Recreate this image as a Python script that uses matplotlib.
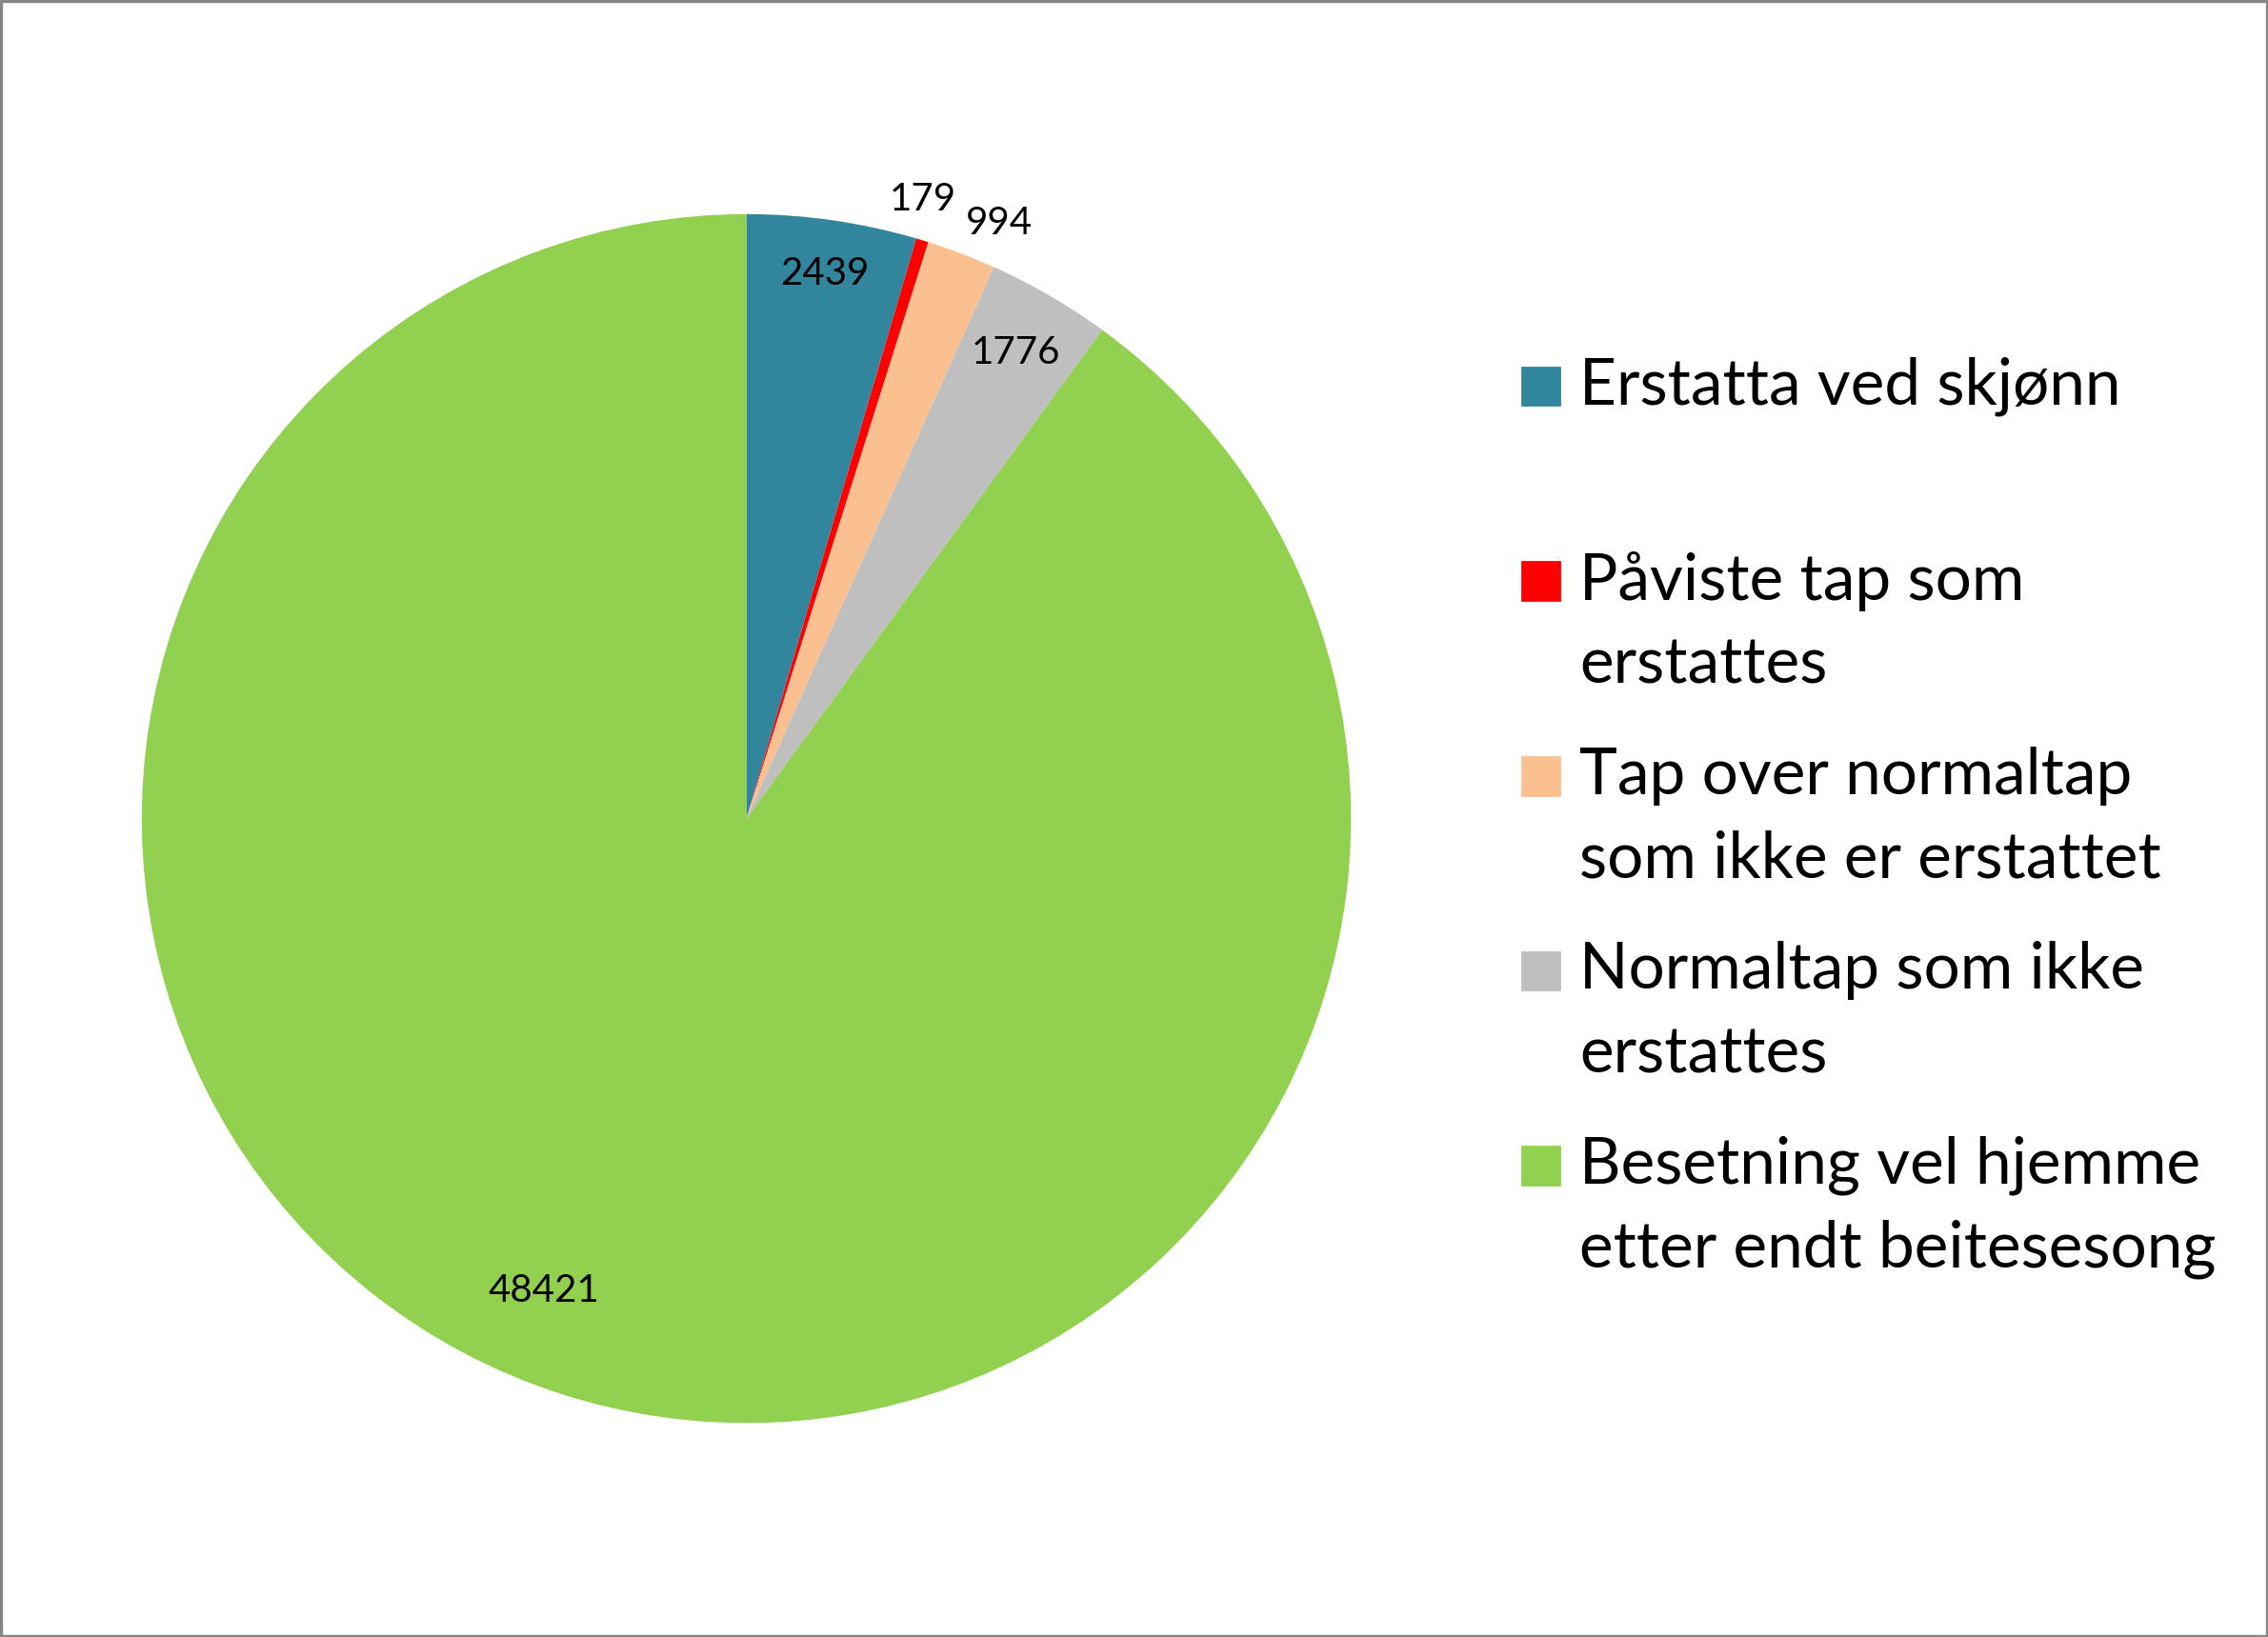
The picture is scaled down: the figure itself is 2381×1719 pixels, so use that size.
import matplotlib
matplotlib.use('Agg')
import matplotlib.pyplot as plt
from matplotlib.patches import Rectangle
import numpy as np

plt.rcParams['font.family'] = ['Lato', 'DejaVu Sans']

# data
categories = ['Erstatta ved skjønn',
              'Påviste tap som\nerstattes',
              'Tap over normaltap\nsom ikke er erstattet',
              'Normaltap som ikke\nerstattes',
              'Besetning vel hjemme\netter endt beitesesong']
values = [2439, 179, 994, 1776, 48421]
colors = ['#31859C', '#FF0000', '#FAC090', '#BFBFBF', '#92D050']

# label placement (radius factor, angle shift in degrees) to mimic excel
label_pos = [(0.91, 0.0), (1.065, 1.0), (1.07, -2.2), (0.89, 0.0), (0.85, -5.2)]

fig = plt.figure(figsize=(11.905, 8.595), dpi=200)
fig.patch.set_facecolor('white')

ax = fig.add_axes([0.0625, 0.1307, 0.5332, 0.7385])
wedges, _ = ax.pie(values, colors=colors, startangle=90, counterclock=False,
                   wedgeprops=dict(linewidth=0))
ax.set_xlim(-1, 1)
ax.set_ylim(-1, 1)
ax.set_aspect('equal')
ax.axis('off')

for w, v, (rf, shift) in zip(wedges, values, label_pos):
    mid = np.deg2rad((w.theta1 + w.theta2) / 2 + shift)
    ax.text(rf * np.cos(mid), rf * np.sin(mid), str(v), ha='center', va='center',
            fontsize=14.5, color='black')

# legend drawn by hand so every entry gets the same height
leg_y = [0.764, 0.645, 0.526, 0.407, 0.288]
line_gap = 0.0512
for lab, c, y in zip(categories, colors, leg_y):
    fig.patches.append(Rectangle((0.671, y - 0.0115), 0.0166, 0.023, color=c,
                                 transform=fig.transFigure, figure=fig))
    for k, part in enumerate(lab.split('\n')):
        fig.text(0.6964, y - k * line_gap, part, ha='left', va='center',
                 fontsize=24.3, color='black')

# thin grey border round the chart area
fig.patches.append(Rectangle((0.0006, 0.0008), 0.9988, 0.9984, fill=False,
                             edgecolor='#868686', linewidth=1.2,
                             transform=fig.transFigure, figure=fig))

fig.savefig('out.png', dpi=200)
